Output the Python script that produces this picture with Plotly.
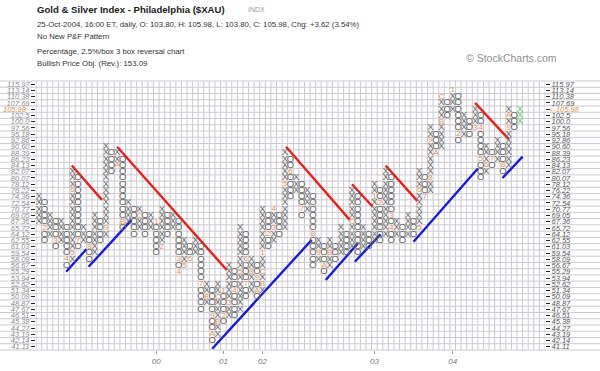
import plotly.graph_objects as go

# ---------------- data ----------------
price_labels = ["41.11", "42.14", "43.19", "44.27", "45.38", "46.51", "47.67", "48.87",
                "50.09", "51.34", "52.62", "53.94", "55.29", "56.67", "58.09", "59.54",
                "61.03", "62.55", "64.12", "65.72", "67.36", "69.05", "70.77", "72.54",
                "74.36", "76.22", "78.12", "80.07", "82.07", "84.13", "86.23", "88.39",
                "90.60", "92.86", "95.18", "97.56", "100.0", "102.5", "105.06", "107.69",
                "110.38", "113.14", "115.97"]
last_price_label = "105.98"
last_price_row = 38

year_cols = [21, 33, 40, 60, 74]
year_labels = ["00", "01", "02", "03", "04"]

# column extremes (box index): X columns -> top box, O columns -> bottom box
first_col_type = "X"
first_col_start = 20
col_extremes = [24, 17, 21, 16, 20, 13, 28, 16, 19, 14, 21, 17, 32, 28, 31, 19, 23, 18,
                22, 18, 21, 15, 22, 18, 21, 12, 17, 14, 17, 6, 10, 1, 10, 4, 13, 5, 19, 8,
                14, 8, 22, 16, 22, 18, 31, 24, 27, 21, 25, 13, 17, 12, 17, 14, 19, 15, 25,
                15, 19, 16, 26, 17, 28, 17, 20, 17, 21, 18, 28, 24, 35, 31, 40, 37, 41, 33,
                37, 34, 38, 27, 32, 29, 33, 28, 38, 35, 38]

month_labels = ["2", "3", "4", "5", "6", "7", "8", "9", "A", "B", "C",
                "1", "2", "3", "4", "5", "6", "7", "8", "9", "A", "B", "C",
                "1", "2", "3", "4", "5", "6", "7", "8", "9", "A", "B", "C",
                "1", "2", "3", "4", "5", "6", "7", "8", "9", "A", "B", "C",
                "1", "2", "3", "4", "5", "6", "7", "8", "9", "A", "B", "C",
                "1", "2", "3", "4", "5", "6", "7", "8", "9", "A"]
month_cols = [1, 3, 5, 6, 6, 7, 9, 12, 14, 15, 18,
              21, 22, 25, 25, 26, 27, 29, 30, 31, 31, 32, 32,
              33, 33, 34, 35, 36, 37, 37, 38, 39, 39, 40, 40,
              40, 41, 42, 42, 44, 45, 47, 49, 50, 51, 52, 56,
              60, 61, 63, 63, 68, 68, 69, 70, 70, 71, 72, 72,
              74, 75, 78, 79, 79, 80, 81, 83, 84, 84]
month_rows = [19, 17, 14, 15, 25, 17, 16, 19, 29, 20, 21,
              20, 16, 14, 12, 13, 14, 10, 8, 5, 2, 4, 8,
              9, 5, 7, 9, 12, 14, 10, 12, 11, 9, 10, 12,
              15, 18, 19, 22, 26, 28, 22, 18, 15, 13, 15, 20,
              24, 23, 21, 19, 19, 25, 24, 27, 33, 31, 36, 40,
              41, 34, 35, 35, 30, 29, 30, 29, 35, 37]

# trend lines: (col0, row0, col1, row1)
red_lines = [(5.9, 29.0, 11.3, 23.5), (14.0, 32.0, 33.6, 12.3), (44.2, 32.0, 55.6, 20.3),
             (56.0, 26.0, 59.7, 22.4), (62.0, 29.0, 67.7, 23.3), (78.0, 39.0, 84.0, 33.2)]
blue_lines = [(4.9, 12.0, 8.5, 15.6), (8.9, 12.8, 16.6, 20.3), (31.0, -0.3, 48.8, 17.1),
              (51.3, 10.7, 57.0, 16.5), (56.5, 13.6, 61.1, 18.0), (67.0, 16.8, 78.5, 28.5),
              (82.9, 27.0, 86.5, 30.4)]

n_rows = len(price_labels)
n_grid_cols = 91

# ---------------- layout geometry ----------------
W, H = 600, 371
L, R, T, B = 36, 55, 81, 21
PW, PH = W - L - R, H - T - B


def px(x):
    return (x - L) / PW


def py(y):
    return (H - B - y) / PH


# ---------------- build columns ----------------
glyph_x, glyph_y, glyph_t = [], [], []
green_x, green_y = [], []
month_set = set(zip(month_cols, month_rows))
prev = None
ctype = first_col_type
for c, ext in enumerate(col_extremes):
    if c == 0:
        lo, hi = (first_col_start, ext) if ctype == "X" else (ext, first_col_start)
    elif ctype == "X":
        lo, hi = prev + 1, ext
    else:
        lo, hi = ext, prev - 1
    for r in range(lo, hi + 1):
        if (c, r) in month_set:
            continue
        if c == len(col_extremes) - 1:
            green_x.append(c)
            green_y.append(r)
        else:
            glyph_x.append(c)
            glyph_y.append(r)
            glyph_t.append(ctype)
    prev = ext
    ctype = "O" if ctype == "X" else "X"

fig = go.Figure()

# grid
vpath = "".join(f"M{c - 0.5},0 L{c - 0.5},1 " for c in range(n_grid_cols + 1))
hpath = "".join(
    f"M{px(0)},{r / n_rows} L{px(W)},{r / n_rows} " for r in range(n_rows + 1))
fig.add_shape(type="path", path=vpath, xref="x", yref="paper",
              line=dict(color="#cdc9d1", width=1), layer="below")
fig.add_shape(type="path", path=hpath, xref="paper", yref="paper",
              line=dict(color="#cdc9d1", width=1), layer="below")

# trend lines
for lines, color in ((red_lines, "#e3231d"), (blue_lines, "#1c1cd0")):
    lx, ly = [], []
    for (c0, r0, c1, r1) in lines:
        lx += [c0, c1, None]
        ly += [r0, r1, None]
    fig.add_trace(go.Scatter(x=lx, y=ly, mode="lines", line=dict(color=color, width=2.4),
                             hoverinfo="skip", showlegend=False))

# X and O glyphs
fig.add_trace(go.Scatter(x=glyph_x, y=glyph_y, mode="text", text=glyph_t,
                         textposition="middle center",
                         textfont=dict(family="Liberation Sans", size=9.5, color="#696969"),
                         hoverinfo="skip", showlegend=False))
fig.add_trace(go.Scatter(x=green_x, y=green_y, mode="text", text=["X"] * len(green_x),
                         textposition="middle center",
                         textfont=dict(family="Liberation Sans", size=9.5, color="#6cc46c"),
                         hoverinfo="skip", showlegend=False))
# month markers
fig.add_trace(go.Scatter(x=month_cols, y=month_rows, mode="text", text=month_labels,
                         textposition="middle center",
                         textfont=dict(family="Liberation Sans", size=8, color="#e0915a"),
                         hoverinfo="skip", showlegend=False))
# dummy trace for right axis
fig.add_trace(go.Scatter(x=[None], y=[None], yaxis="y2", showlegend=False, hoverinfo="skip"))

tick_rows = list(range(n_rows))
tick_text = [("" if r == last_price_row else lab) for r, lab in enumerate(price_labels)]
tfont_r = dict(family="Liberation Sans", size=7.5, color="#555555", style="italic")
tfont_l = dict(family="Liberation Sans", size=7.5, color="#8c8c8c", style="italic")

fig.update_layout(
    width=W, height=H, margin=dict(l=L, r=R, t=T, b=B, pad=0, autoexpand=False),
    paper_bgcolor="white", plot_bgcolor="white",
    xaxis=dict(range=[-0.5, n_grid_cols - 0.5], showgrid=False, zeroline=False,
               showline=False, tickmode="array", tickvals=year_cols, ticktext=year_labels,
               ticks="outside", ticklen=3, tickcolor="#999999", automargin=False,
               tickfont=dict(family="Liberation Sans", size=8, color="#777777", style="italic")),
    yaxis=dict(range=[-0.5, n_rows - 0.5], showgrid=False, zeroline=False, showline=False,
               tickmode="array", tickvals=tick_rows, ticktext=tick_text, side="left",
               ticks="outside", ticklen=4, tickcolor="#222222", tickfont=tfont_l,
               automargin=False),
    yaxis2=dict(range=[-0.5, n_rows - 0.5], overlaying="y", side="right", showgrid=False,
                zeroline=False, showline=False, tickmode="array", tickvals=tick_rows,
                ticktext=tick_text, ticks="outside", ticklen=4, tickcolor="#222222",
                tickfont=tfont_r, automargin=False),
    showlegend=False,
)

ann = []


def add_text(x, y, text, size, color, bold=False, anchor="left", family="Liberation Sans"):
    ann.append(dict(x=px(x), y=py(y), xref="paper", yref="paper", text=text,
                    showarrow=False, xanchor=anchor, yanchor="middle",
                    font=dict(family=family, size=size, color=color,
                              weight="bold" if bold else "normal")))


add_text(35, 9, "Gold &amp; Silver Index - Philadelphia ($XAU)", 9.6, "#1a1a1a", bold=True)
add_text(246, 9, "INDX", 7, "#9a9a9a")
add_text(35, 24, "25-Oct-2004, 16:00 ET, daily, O: 103.80, H: 105.98, L: 103.80, "
                 "C: 105.98, Chg: +3.62 (3.54%)", 7.8, "#333333")
add_text(35, 36, "No New P&amp;F Pattern", 7.8, "#333333")
add_text(35, 51, "Percentage, 2.5%/box 3 box reversal chart", 7.8, "#333333")
add_text(35, 64, "Bullish Price Obj. (Rev.): 153.09", 7.8, "#333333")
add_text(464, 58, "© StockCharts.com", 10.5, "#8f8f8f")

y_last = (last_price_row + 0.5) / n_rows
ann.append(dict(x=px(547), y=y_last, xref="paper", yref="paper", text="&lt;-" + last_price_label,
                showarrow=False, xanchor="left", yanchor="middle",
                font=dict(family="Liberation Sans", size=7.5, color="#e0915a", style="italic")))
ann.append(dict(x=px(29), y=y_last, xref="paper", yref="paper", text=last_price_label,
                showarrow=False, xanchor="right", yanchor="middle",
                font=dict(family="Liberation Sans", size=7.5, color="#e0915a", style="italic")))
fig.update_layout(annotations=ann)

fig.write_html("out.html", config={"displayModeBar": False},
               post_script="document.body.style.margin='0px';"
                           "document.body.style.overflow='hidden';")
